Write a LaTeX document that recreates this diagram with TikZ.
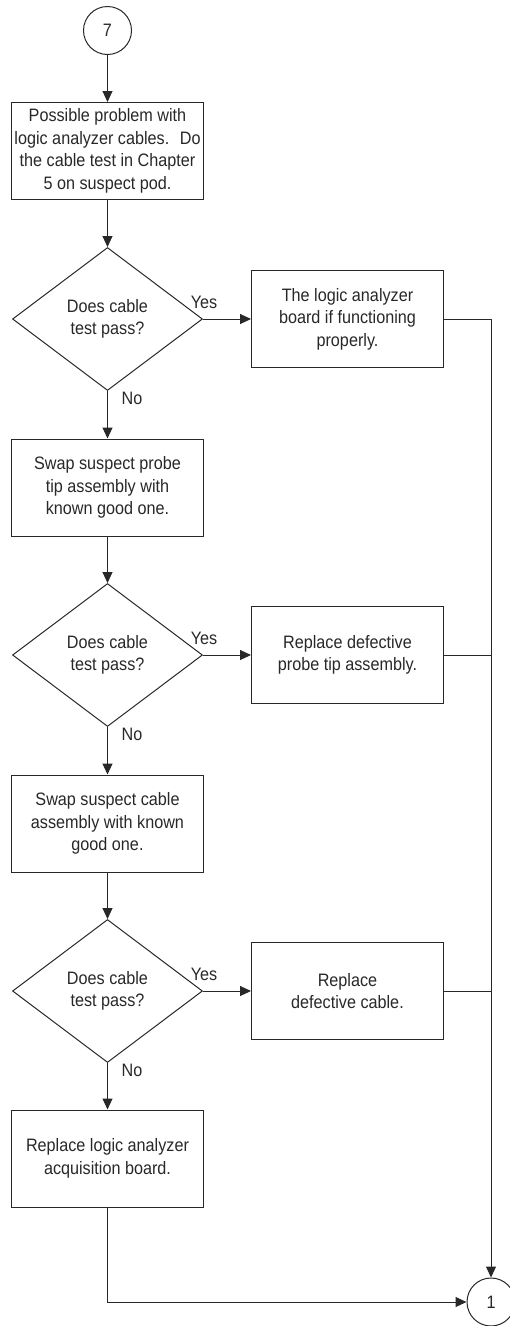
\documentclass[tikz,border=0pt]{standalone}
\usepackage{fontspec}
\setmainfont{Liberation Sans}[FakeStretch=0.9]
\usetikzlibrary{arrows.meta,positioning,calc,shapes.geometric}
\definecolor{flowInk}{RGB}{40,40,40}

\begin{document}
\begin{tikzpicture}[
  x=1pt,y=1pt,
  font=\fontsize{18}{22.5}\selectfont,
  every node/.style={text=flowInk},
  stepbox/.style={draw=flowInk,line width=1pt,align=center,minimum width=192pt,minimum height=97pt,inner sep=0pt},
  askbox/.style={diamond,draw=flowInk,line width=1pt,align=center,minimum width=190pt,minimum height=143pt,inner sep=0pt},
  endcirc/.style={circle,draw=flowInk,line width=1pt,minimum size=48pt,inner sep=0pt},
  lbl/.style={inner sep=0pt},
  arr/.style={-{Triangle[length=11pt,width=10pt]},line width=1pt,flowInk},
  wire/.style={line width=1pt,flowInk}
]
\useasboundingbox (0,0) rectangle (510,-1326);
\node[endcirc] (c7) at (107.5,-30.5) {7};
\node[stepbox] (s1) at (107.5,-151) {Possible problem with\\logic analyzer cables.~ Do\\the cable test in Chapter\\5 on suspect pod.};
\node[askbox] (q1) at (107.5,-319) {Does cable\\test pass?};
\node[stepbox] (s2) at (107.5,-487.5) {Swap suspect probe\\tip assembly with\\known good one.};
\node[askbox] (q2) at (107.5,-655) {Does cable\\test pass?};
\node[stepbox] (s3) at (107.5,-823.5) {Swap suspect cable\\assembly with known\\good one.};
\node[askbox] (q3) at (107.5,-991) {Does cable\\test pass?};
\node[stepbox] (s4) at (107.5,-1158.5) {Replace logic analyzer\\acquisition board.};

\node[stepbox] (r1) at (347.5,-319) {The logic analyzer\\board if functioning\\properly.};
\node[stepbox] (r2) at (347.5,-655) {Replace defective\\probe tip assembly.};
\node[stepbox] (r3) at (347.5,-991) {Replace\\defective cable.};
\node[endcirc] (c1) at (491,-1302) {1};

\foreach \a/\b in {c7/s1,s1/q1,q1/s2,s2/q2,q2/s3,s3/q3,q3/s4}{\draw[arr] (\a.south) -- (\b.north);}
\foreach \i in {1,2,3}{
  \draw[arr] (q\i.east) -- (r\i.west);
  \node[lbl,anchor=base] (yes\i) at ($(q\i.east)+(1,11)$) {Yes};
  \node[lbl,anchor=base west] (no\i) at ($(q\i.south)+(14,-13)$) {No};
}
\draw[arr] (r1.east) -| (c1.north);
\draw[wire] (r2.east) -- (r2.east -| c1.north);
\draw[wire] (r3.east) -- (r3.east -| c1.north);
\draw[arr] (s4.south) |- (c1.west);
\end{tikzpicture}
\end{document}
